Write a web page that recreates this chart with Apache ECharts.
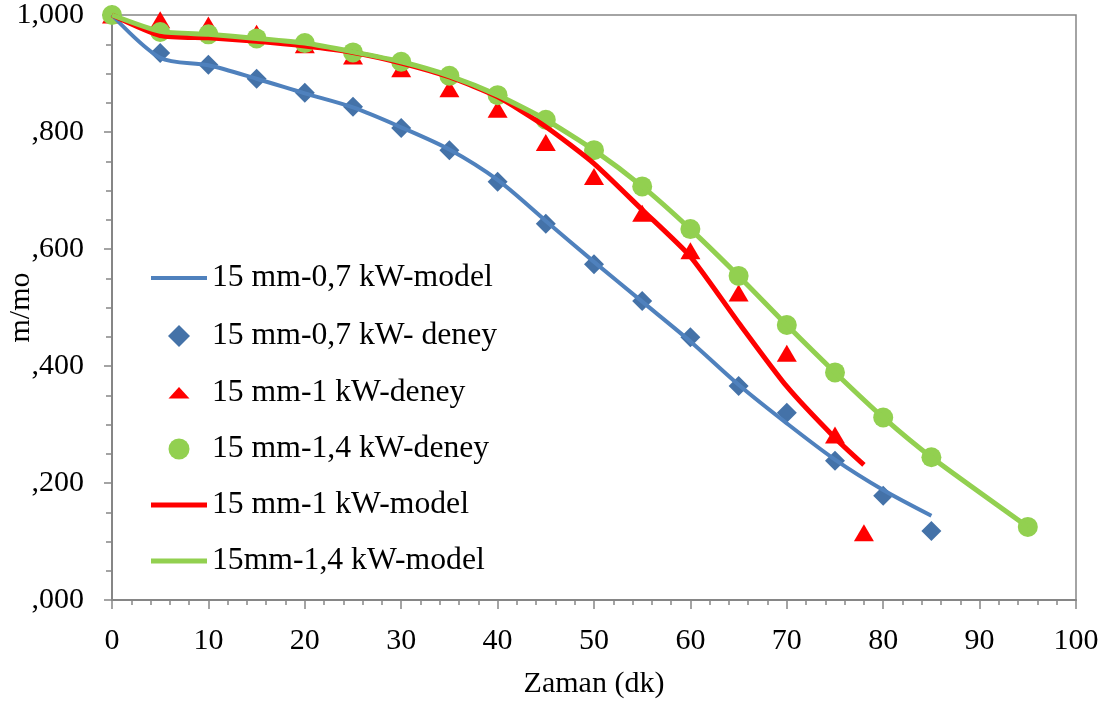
<!DOCTYPE html>
<html>
<head>
<meta charset="utf-8">
<script src="https://cdn.jsdelivr.net/npm/echarts@6/dist/echarts.min.js"></script>
<style>
html,body{margin:0;padding:0;background:#fff;}
#chart{width:1111px;height:707px;}
</style>
</head>
<body>
<div id="chart"></div>
<script>
// ---- data ----
const xTicks = [0, 10, 20, 30, 40, 50, 60, 70, 80, 90, 100];
const yTickLabels = [',000', ',200', ',400', ',600', ',800', '1,000'];

const seriesNames = [
  '15 mm-0,7 kW-model',
  '15 mm-0,7 kW- deney',
  '15 mm-1 kW-deney',
  '15 mm-1,4 kW-deney',
  '15 mm-1 kW-model',
  '15mm-1,4 kW-model'
];

const blueModelX = [0, 5, 10, 15, 20, 25, 30, 35, 40, 45, 50, 55, 60, 65, 70, 75, 80, 85];
const blueModelY = [1.000, 0.927, 0.914, 0.891, 0.866, 0.842, 0.808, 0.770, 0.718, 0.648, 0.578, 0.510, 0.442, 0.368, 0.302, 0.240, 0.188, 0.144];

const blueExpX = [0, 5, 10, 15, 20, 25, 30, 35, 40, 45, 50, 55, 60, 65, 70, 75, 80, 85];
const blueExpY = [1.000, 0.935, 0.915, 0.891, 0.867, 0.843, 0.807, 0.769, 0.715, 0.643, 0.574, 0.511, 0.449, 0.366, 0.320, 0.238, 0.178, 0.118];

const redExpX = [0, 5, 10, 15, 20, 25, 30, 35, 40, 45, 50, 55, 60, 65, 70, 75, 78];
const redExpY = [1.000, 0.992, 0.983, 0.969, 0.949, 0.930, 0.908, 0.874, 0.839, 0.782, 0.724, 0.661, 0.597, 0.525, 0.422, 0.282, 0.115];

const greenExpX = [0, 5, 10, 15, 20, 25, 30, 35, 40, 45, 50, 55, 60, 65, 70, 75, 80, 85, 95];
const greenExpY = [1.000, 0.971, 0.967, 0.960, 0.952, 0.936, 0.920, 0.896, 0.863, 0.821, 0.769, 0.707, 0.634, 0.554, 0.470, 0.389, 0.312, 0.244, 0.125];

const redModelX = [0, 5, 10, 15, 20, 25, 30, 35, 40, 45, 50, 55, 60, 65, 70, 75, 78];
const redModelY = [1.000, 0.965, 0.961, 0.955, 0.947, 0.936, 0.918, 0.894, 0.860, 0.809, 0.746, 0.667, 0.587, 0.474, 0.365, 0.277, 0.231];

const greenModelX = [0, 5, 10, 15, 20, 25, 30, 35, 40, 45, 50, 55, 60, 65, 70, 75, 80, 85, 95];
const greenModelY = [1.000, 0.972, 0.967, 0.960, 0.952, 0.937, 0.920, 0.896, 0.863, 0.821, 0.769, 0.707, 0.634, 0.554, 0.470, 0.389, 0.312, 0.244, 0.125];

// ---- build ----
function zip(xs, ys) { return xs.map((x, i) => [x, ys[i]]); }
const FONT = "'Liberation Serif', 'Times New Roman', serif";
const GRAY = '#868686';

// legend icons drawn in a 56x22 box (anchored by the two leading move-to points)
const BOX = 'path://M0 0M56 22';
const legendIcons = [
  BOX + 'M0 9H56V13H0Z',
  BOX + 'M28 0L39 11L28 22L17 11Z',
  BOX + 'M28 5L38.5 16.5H17.5Z',
  BOX + 'M17.5 11A10.5 10.5 0 1 1 38.5 11A10.5 10.5 0 1 1 17.5 11Z',
  BOX + 'M0 8.5H56V13.5H0Z',
  BOX + 'M0 8.5H56V13.5H0Z'
];
const legendTops = [257, 315, 372, 428, 484, 540];

const legends = seriesNames.map((name, i) => ({
  orient: 'vertical', left: 146, top: legendTops[i],
  itemWidth: 56, itemHeight: 22,
  symbolKeepAspect: true,
  textStyle: {fontFamily: FONT, fontSize: 31.7, color: '#000'},
  data: [{name: name, icon: legendIcons[i]}]
}));

const chart = echarts.init(document.getElementById('chart'), null, {renderer: 'canvas'});
chart.setOption({
  animation: false,
  backgroundColor: '#ffffff',
  textStyle: {fontFamily: FONT},
  grid: {
    left: 112, right: 35, top: 15, bottom: 107,
    containLabel: false, outerBoundsMode: 'none',
    show: true, borderColor: GRAY, borderWidth: 1.5, backgroundColor: 'transparent'
  },
  xAxis: {
    type: 'value', min: xTicks[0], max: xTicks[xTicks.length - 1], interval: 10,
    name: 'Zaman (dk)', nameLocation: 'middle', nameGap: 69, nameMoveOverlap: false,
    nameTextStyle: {fontFamily: FONT, fontSize: 30, color: '#000'},
    axisLine: {show: true, onZero: false, lineStyle: {color: GRAY, width: 2}},
    axisTick: {show: true, inside: false, length: 9, lineStyle: {color: GRAY, width: 1.5}},
    minorTick: {show: true, splitNumber: 5, length: 5, lineStyle: {color: GRAY, width: 1.5}},
    splitLine: {show: false},
    axisLabel: {fontFamily: FONT, fontSize: 30, color: '#000', margin: 26}
  },
  yAxis: {
    type: 'value', min: 0, max: 1, interval: 0.2,
    name: 'm/mo', nameLocation: 'middle', nameGap: 76, nameRotate: 90, nameMoveOverlap: false,
    nameTextStyle: {fontFamily: FONT, fontSize: 30, color: '#000'},
    axisLine: {show: true, onZero: false, lineStyle: {color: GRAY, width: 2}},
    axisTick: {show: true, inside: false, length: 8, lineStyle: {color: GRAY, width: 1.5}},
    minorTick: {show: true, splitNumber: 4, length: 6, lineStyle: {color: GRAY, width: 1.5}},
    splitLine: {show: false},
    axisLabel: {
      fontFamily: FONT, fontSize: 30, color: '#000', margin: 28,
      formatter: function (v) { return yTickLabels[Math.round(v / 0.2)]; }
    }
  },
  legend: legends,
  series: [
    {
      name: seriesNames[0], type: 'line', data: zip(blueModelX, blueModelY),
      symbol: 'none', showSymbol: false, smooth: 0.3,
      itemStyle: {color: '#4F81BD'},
      lineStyle: {color: '#4F81BD', width: 4}
    },
    {
      name: seriesNames[1], type: 'scatter', data: zip(blueExpX, blueExpY),
      symbol: 'diamond', symbolSize: 20,
      itemStyle: {color: '#4472A8', opacity: 1}
    },
    {
      name: seriesNames[2], type: 'scatter', data: zip(redExpX, redExpY),
      symbol: 'triangle', symbolSize: [20, 17],
      itemStyle: {color: '#FF0000', opacity: 1}
    },
    {
      name: seriesNames[3], type: 'scatter', data: zip(greenExpX, greenExpY),
      symbol: 'circle', symbolSize: 20,
      itemStyle: {color: '#92D050', opacity: 1}
    },
    {
      name: seriesNames[4], type: 'line', data: zip(redModelX, redModelY),
      symbol: 'none', showSymbol: false, smooth: 0.2,
      itemStyle: {color: '#FF0000'},
      lineStyle: {color: '#FF0000', width: 5}
    },
    {
      name: seriesNames[5], type: 'line', data: zip(greenModelX, greenModelY),
      symbol: 'none', showSymbol: false, smooth: 0.2,
      itemStyle: {color: '#92D050'},
      lineStyle: {color: '#92D050', width: 5}
    }
  ]
});
</script>
</body>
</html>
